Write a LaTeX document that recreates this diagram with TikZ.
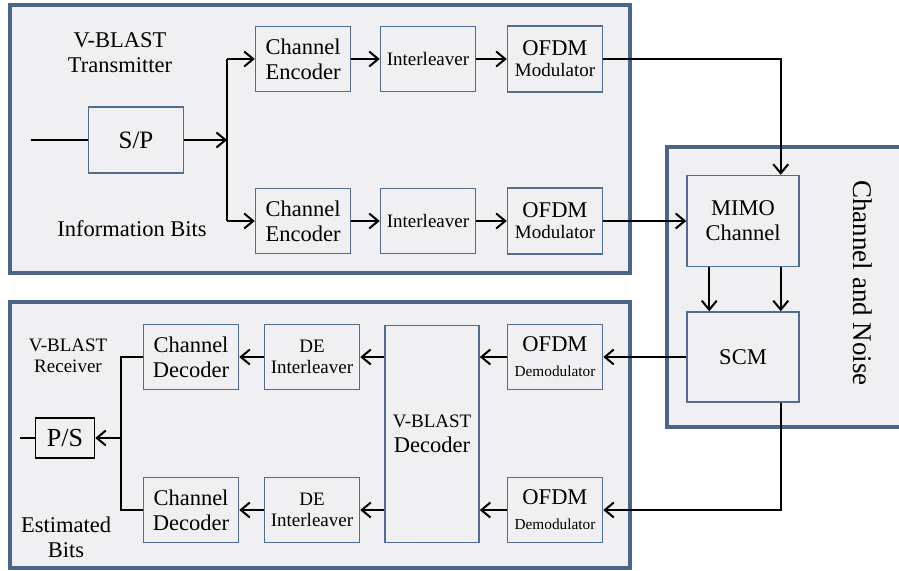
\documentclass[tikz,border=0pt]{standalone}
\usepackage{fontspec}
\setmainfont{Liberation Serif}
\usetikzlibrary{arrows.meta}
\definecolor{frameblue}{HTML}{4A6587}
\definecolor{boxblue}{HTML}{4F6E90}
\definecolor{panelgray}{HTML}{F0F0F2}
\newcommand{\bigtxt}{\fontsize{22.5}{25}\selectfont}
\newcommand{\midtxt}{\fontsize{19}{21}\selectfont}
\newcommand{\smalltxt}{\fontsize{15.3}{17}\selectfont}
\tikzset{
	panel/.style={draw=frameblue, fill=panelgray, line width=3.5pt},
	block/.style={draw=boxblue, fill=panelgray, line width=1.5pt, align=center, inner sep=0pt, minimum width=95pt, minimum height=65pt, font=\bigtxt},
	note/.style={align=center, font=\bigtxt},
}
\begin{document}
\begin{tikzpicture}[x=1pt, y=-1pt, line width=2pt, >={Straight Barb[length=9pt,width=15pt]}]
			\useasboundingbox (0,0) rectangle (899,570);
			\fill[panelgray] (667,147) rectangle (899,427);
			\draw[frameblue, line width=3.5pt] (905,147) -- (667,147) -- (667,427) -- (905,427);
			\draw[panel] (10,5) rectangle (630,273);
			\draw[panel] (10,302) rectangle (630,568);

			\node[block, minimum height=66pt, font={\fontsize{25}{28}\selectfont}] (sp) at (136,140) {S/P};
			\node[block] (encA) at (303,59) {Channel\\Encoder};
			\node[block] (encB) at (303,221) {Channel\\Encoder};
			\node[block, font=\midtxt] (intA) at (428,59) {Interleaver};
			\node[block, font=\midtxt] (intB) at (428,221) {Interleaver};
			\node[block, minimum height=66pt] (modA) at (555,59) {OFDM\\[-4pt]{\midtxt Modulator}};
			\node[block, minimum height=66pt] (modB) at (555,221) {OFDM\\[-4pt]{\midtxt Modulator}};
			\node[block, minimum width=112pt, minimum height=91pt] (mimo) at (743,221) {MIMO\\Channel};
			\node[block, minimum width=112pt, minimum height=90pt] (scm) at (743,357) {SCM};
			\node[block] (demA) at (555,357) {OFDM\\{\smalltxt Demodulator}};
			\node[block] (demB) at (555,510) {OFDM\\{\smalltxt Demodulator}};
			\node[block, minimum width=94pt, minimum height=217pt] (vdec) at (432,434) {{\midtxt V-BLAST}\\Decoder};
			\node[block, font=\midtxt] (deintA) at (312,357) {DE\\Interleaver};
			\node[block, font=\midtxt] (deintB) at (312,510) {DE\\Interleaver};
			\node[block] (chdecA) at (191,357) {Channel\\Decoder};
			\node[block] (chdecB) at (191,510) {Channel\\Decoder};
			\node[block, draw=black, minimum width=59pt, minimum height=40pt, font={\fontsize{26}{28}\selectfont}] (ps) at (65,438) {P/S};

			\node[note] (txlabel) at (120,53) {V-BLAST\\Transmitter};
			\node[note] (infobits) at (132,229) {Information Bits};
			\node[note, font=\midtxt] (rxlabel) at (68,356) {V-BLAST\\Receiver};
			\node[note] (estbits) at (66,537) {Estimated\\Bits};
			\node[note, rotate=-90, font={\fontsize{27}{30}\selectfont}] (chlabel) at (863,283) {Channel and Noise};

			\coordinate (in) at (31,140);
			\coordinate (split) at (227,140);
			\draw (in) -- (sp);
			\draw[->] (sp) -- (split);
			\draw (split |- encA) -- (split |- encB);
			\draw[->] (split |- encA) -- (encA);
			\draw[->] (split |- encB) -- (encB);
			\draw[->] (encA) -- (intA);
			\draw[->] (encB) -- (intB);
			\draw[->] (intA) -- (modA);
			\draw[->] (intB) -- (modB);
			\draw[->] (modA) -| ([xshift=-19pt]mimo.north east);
			\draw[->] (modB) -- (mimo);
			\draw[->] ([xshift=23pt]mimo.south west) -- ([xshift=23pt]scm.north west);
			\draw[->] ([xshift=-19pt]mimo.south east) -- ([xshift=-19pt]scm.north east);
			\draw[->] (scm) -- (demA);
			\draw[->] ([xshift=-19pt]scm.south east) |- (demB);
			\draw[->] (demA) -- (demA -| vdec.east);
			\draw[->] (demB) -- (demB -| vdec.east);
			\draw[->] (vdec.west |- deintA) -- (deintA);
			\draw[->] (vdec.west |- deintB) -- (deintB);
			\draw[->] (deintA) -- (chdecA);
			\draw[->] (deintB) -- (chdecB);
			\coordinate (join) at (121,438);
			\coordinate (out) at (20,438);
			\draw (chdecA) -| (join);
			\draw (chdecB) -| (join);
			\draw[->] (join) -- (ps);
			\draw (ps) -- (out);
		\end{tikzpicture}
\end{document}
